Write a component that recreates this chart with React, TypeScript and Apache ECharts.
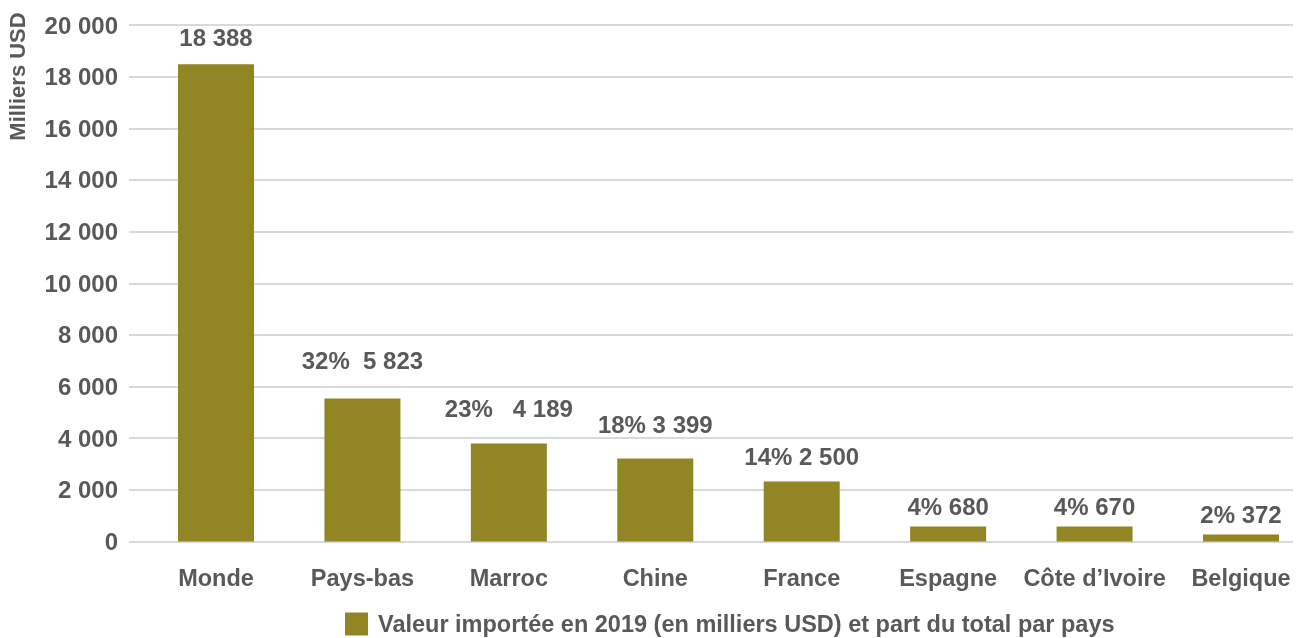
import React, { useEffect, useRef } from "react";
import * as echarts from "echarts";

const categories = ["Monde", "Pays-bas", "Marroc", "Chine", "France", "Espagne", "Côte d’Ivoire", "Belgique"];
const barValues = [18480, 5535, 3795, 3215, 2320, 580, 580, 270];
const barLabels = ["18 388", "32%  5 823", "23%   4 189", "18% 3 399", "14% 2 500", "4% 680", "4% 670", "2% 372"];
const seriesName = "Valeur importée en 2019 (en milliers USD) et part du total par pays";
const yTitle = "Milliers USD";
const yMin = 0;
const yMax = 20000;
const yStep = 2000;

const labelGaps = [15, 26, 23, 22, 13, 8, 8, 8];

const FONT = "'Liberation Sans', Arial, sans-serif";
const TXT = "#595959";
const BAR = "#918623";

export default function App() {
  const ref = useRef<HTMLDivElement>(null);
  useEffect(() => {
    if (!ref.current) return;
    const chart = echarts.init(ref.current, null, { renderer: "svg" });
    const fmt = (v: number) => String(v).replace(/\B(?=(\d{3})+(?!\d))/g, " ");
    chart.setOption({
      animation: false,
      textStyle: { fontFamily: FONT },
      grid: [
        { left: 129, right: 6, top: 25, bottom: 96.5, outerBoundsMode: "none" },
        { left: 142.8, width: 1171.4, top: 25, bottom: 96.5, outerBoundsMode: "none" },
      ],
      xAxis: [
        { type: "category", gridIndex: 0, data: categories, show: false },
        {
          type: "category",
          gridIndex: 1,
          data: categories,
          axisLine: { show: false },
          axisTick: { show: false },
          axisLabel: { color: TXT, fontSize: 23.5, fontWeight: "bold", fontFamily: FONT, margin: 24, interval: 0 },
        },
      ],
      yAxis: [
        {
          type: "value",
          gridIndex: 0,
          min: yMin,
          max: yMax,
          interval: yStep,
          axisLine: { show: false },
          axisTick: { show: false },
          splitLine: { lineStyle: { color: "#d9d9d9", width: 2 } },
          axisLabel: { color: TXT, fontSize: 24, fontWeight: "bold", fontFamily: FONT, margin: 11, formatter: fmt },
        },
        { type: "value", gridIndex: 1, min: yMin, max: yMax, interval: yStep, show: false, splitLine: { show: false } },
      ],
      legend: {
        left: 345,
        top: 612,
        padding: 0,
        itemWidth: 23,
        itemHeight: 23,
        icon: "rect",
        textStyle: { color: TXT, fontSize: 23.5, lineHeight: 22, fontWeight: "bold", fontFamily: FONT, padding: [0, 0, 0, 5] },
        data: [seriesName],
      },
      graphic: [
        {
          type: "text",
          x: 17.5,
          y: 76.5,
          rotation: Math.PI / 2,
          style: {
            text: yTitle,
            fill: TXT,
            font: `bold 22px ${FONT}`,
            align: "center",
            verticalAlign: "middle",
          },
        },
      ],
      series: [
        {
          name: seriesName,
          type: "bar",
          xAxisIndex: 1,
          yAxisIndex: 1,
          barWidth: 76,
          itemStyle: { color: BAR },
          data: barValues.map((v, i) => ({
            value: v,
            label: {
              show: true,
              position: "top",
              distance: labelGaps[i],
              formatter: barLabels[i],
              color: TXT,
              fontSize: 24,
              fontWeight: "bold",
              fontFamily: FONT,
            },
          })),
        },
      ],
    });
    return () => chart.dispose();
  }, []);
  return <div ref={ref} style={{ position: "fixed", left: 0, top: 0, width: 1299, height: 638 }} />;
}
